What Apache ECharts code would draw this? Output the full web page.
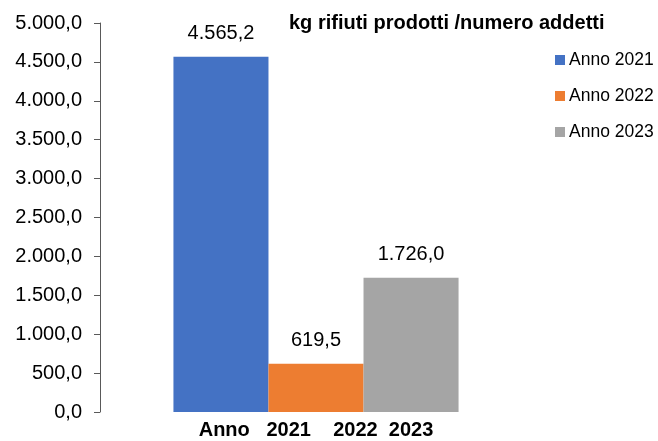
<!DOCTYPE html>
<html>
<head>
<meta charset="utf-8">
<script src="https://cdn.jsdelivr.net/npm/echarts@6/dist/echarts.min.js"></script>
<style>
  html, body { margin: 0; padding: 0; background: #fff; }
  #chart { width: 658px; height: 441px; }
</style>
</head>
<body>
<div id="chart"></div>
<script>
// dati
const categories = ['Anno   2021    2022  2023'];
const seriesNames = ['Anno 2021', 'Anno 2022', 'Anno 2023'];
const values = [4565.2, 619.5, 1726.0];
const colors = ['#4472C4', '#ED7D31', '#A5A5A5'];
const yTicks = { min: 0, max: 5000, interval: 500 };

// 1234.5 -> "1.234,5"
function fmt(v) {
    let parts = v.toFixed(1).split('.');
    parts[0] = parts[0].replace(/\B(?=(\d{3})+(?!\d))/g, '.');
    return parts[0] + ',' + parts[1];
}

let myChart = echarts.init(document.getElementById('chart'));
let option = {
    animation: false,
    textStyle: { fontFamily: 'Liberation Sans, Arial, sans-serif' },
    title: {
        text: 'kg rifiuti prodotti /numero addetti',
        left: 284,
        top: 8,
        textStyle: { fontSize: 20, fontWeight: 'bold', color: '#000' }
    },
    legend: {
        orient: 'vertical',
        left: 550,
        top: 46,
        itemWidth: 10,
        itemHeight: 10,
        itemGap: 18,
        icon: 'rect',
        textStyle: { fontSize: 17.5, color: '#000', padding: [0, 0, 0, -1] },
        data: seriesNames
    },
    grid: { left: 100, right: 126, top: 23, bottom: 29 },
    xAxis: {
        type: 'category',
        data: categories,
        axisLine: { show: false },
        axisTick: { show: false },
        axisLabel: { fontSize: 20, fontWeight: 'bold', color: '#000', margin: 8 }
    },
    yAxis: {
        type: 'value',
        min: yTicks.min,
        max: yTicks.max,
        interval: yTicks.interval,
        splitLine: { show: false },
        axisLine: { show: true, lineStyle: { color: '#595959', width: 1 } },
        axisTick: { show: true, length: 6, lineStyle: { color: '#595959' } },
        axisLabel: { fontSize: 20, color: '#000', margin: 18, formatter: fmt }
    },
    series: seriesNames.map((name, i) => ({
        name: name,
        type: 'bar',
        data: [values[i]],
        itemStyle: { color: colors[i] },
        barGap: '0%',
        barCategoryGap: '34%',
        label: {
            show: true,
            position: 'top',
            distance: 13,
            fontSize: 20,
            color: '#000',
            formatter: p => fmt(p.value)
        }
    }))
};
option && myChart.setOption(option);
</script>
</body>
</html>
